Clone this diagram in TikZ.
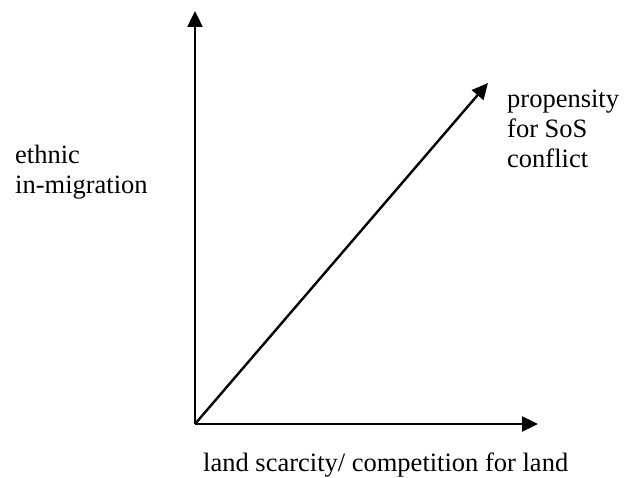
\documentclass[tikz,border=0pt]{standalone}
\usepackage{fontspec}
\setmainfont{Liberation Serif}
\usetikzlibrary{arrows.meta}

\begin{document}
\begin{tikzpicture}[x=1pt, y=-1pt,
    axis/.style={line width=2.4pt, -{Triangle[length=16pt, width=15pt]}},
    lbl/.style={inner sep=0pt, align=left, font=\fontsize{26.5}{30}\selectfont}]
                % Bounding box:
                \useasboundingbox (0, 0) rectangle (633, 478);
                % Corners and tips:
                \coordinate (O) at (195, 424);
                \coordinate (Y) at (195, 11);
                \coordinate (X) at (538, 424);
                \coordinate (D) at (488, 83);
                % Axes:
                \draw[axis] (O) -- (Y);
                \draw[axis] (O) -- (X);
                \draw[axis] (O) -- (D);
                % Labels (base is the last line):
                \node[lbl, anchor=base west](L1) at (15, 194){ethnic\\in-migration};
                \node[lbl, anchor=base west](L2) at (507, 168){propensity\\for SoS\\conflict};
                \node[lbl, anchor=base west](L3) at (203, 472){land scarcity/ competition for land};
            \end{tikzpicture}
\end{document}
